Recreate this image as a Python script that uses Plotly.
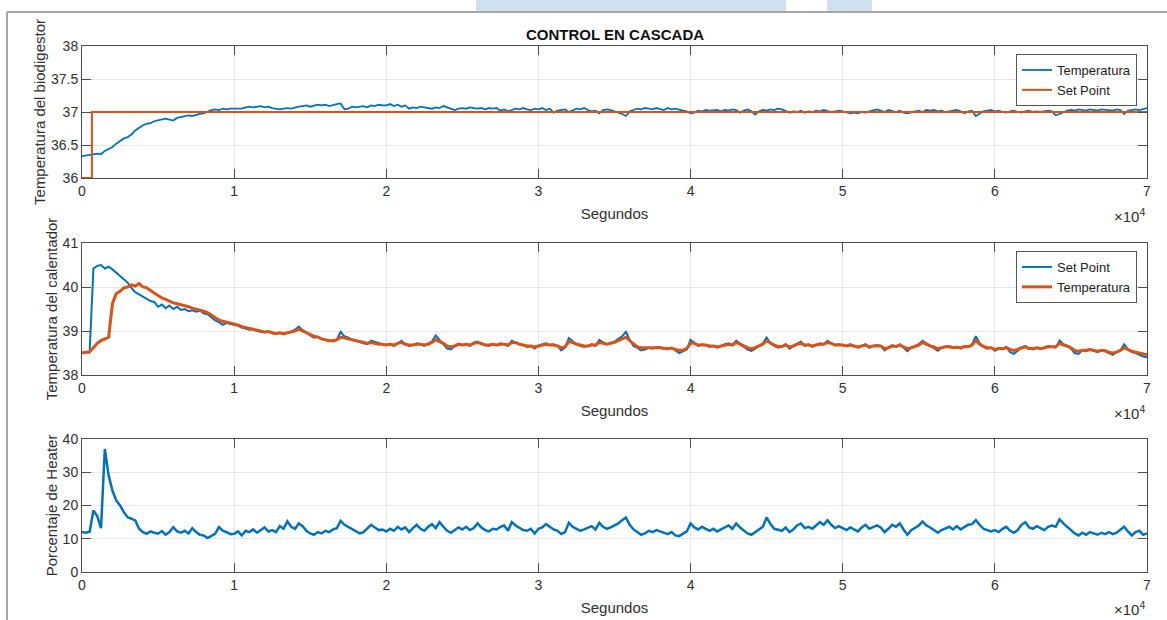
import numpy as np
import plotly.graph_objects as go

# Sampling period of the logged signals (s)
PERIODO = 250

# --- Biodigestor: temperature and set point ---
temp_biodigestor = [
    36.33, 36.34, 36.34, 36.35, 36.37, 36.36, 36.41, 36.44, 36.47, 36.52, 36.56, 36.60, 36.62, 36.66, 36.72, 36.76, 36.80, 36.82, 36.83, 36.86,
    36.88, 36.89, 36.90, 36.88, 36.87, 36.91, 36.92, 36.94, 36.95, 36.94, 36.96, 36.97, 36.98, 37.01, 37.03, 37.04, 37.03, 37.05, 37.04, 37.05,
    37.05, 37.06, 37.05, 37.07, 37.08, 37.07, 37.08, 37.09, 37.07, 37.08, 37.06, 37.05, 37.04, 37.05, 37.06, 37.05, 37.07, 37.08, 37.09, 37.10,
    37.08, 37.10, 37.11, 37.10, 37.11, 37.09, 37.11, 37.12, 37.13, 37.04, 37.05, 37.08, 37.07, 37.08, 37.09, 37.07, 37.10, 37.09, 37.11, 37.10,
    37.10, 37.12, 37.09, 37.11, 37.08, 37.10, 37.05, 37.07, 37.06, 37.08, 37.07, 37.06, 37.05, 37.07, 37.06, 37.09, 37.07, 37.06, 37.03, 37.05,
    37.06, 37.05, 37.07, 37.06, 37.05, 37.06, 37.04, 37.06, 37.05, 37.06, 37.02, 37.04, 37.01, 37.03, 37.05, 37.04, 37.06, 37.04, 37.03, 37.05,
    37.04, 37.06, 37.03, 37.05, 36.99, 37.02, 37.03, 37.04, 37.00, 37.03, 37.05, 37.04, 37.06, 37.03, 37.01, 37.02, 36.98, 37.03, 37.04, 37.03,
    37.01, 37.00, 36.97, 36.94, 37.01, 37.03, 37.05, 37.04, 37.06, 37.05, 37.04, 37.06, 37.05, 37.03, 37.06, 37.04, 37.05, 37.03, 37.02, 37.01,
    36.98, 36.99, 37.02, 37.01, 37.03, 37.02, 37.02, 37.03, 37.01, 37.03, 37.02, 37.04, 37.03, 36.99, 37.02, 37.04, 37.01, 36.96, 37.01, 37.03,
    37.02, 37.04, 37.03, 37.05, 37.04, 37.02, 36.99, 37.01, 37.00, 37.02, 36.99, 37.01, 37.00, 37.02, 37.01, 37.03, 37.02, 37.00, 37.01, 37.02,
    37.01, 37.00, 36.98, 36.99, 36.98, 37.00, 36.99, 37.01, 37.03, 37.04, 37.02, 37.00, 37.03, 37.02, 37.00, 37.02, 36.99, 36.98, 37.00, 37.01,
    37.02, 37.00, 37.03, 37.02, 37.03, 37.01, 37.02, 37.00, 37.01, 37.02, 37.03, 37.01, 36.98, 37.01, 37.02, 36.94, 36.97, 37.01, 37.02, 37.03,
    37.01, 37.02, 37.00, 36.99, 37.01, 37.02, 37.00, 36.99, 37.01, 37.02, 37.00, 37.01, 37.00, 37.01, 37.02, 37.01, 36.95, 36.97, 37.00, 37.02,
    37.03, 37.02, 37.04, 37.03, 37.02, 37.04, 37.03, 37.02, 37.04, 37.03, 37.03, 37.02, 37.04, 37.03, 36.97, 37.02, 37.03, 37.04, 37.03, 37.05,
    37.06,
]
sp_biodigestor_t = [0, 650, 650, 70000]
sp_biodigestor = [36.0, 36.0, 37.0, 37.0]

# --- Heater: set point from the outer loop and measured temperature ---
sp_calentador = [
    38.50, 38.52, 38.51, 40.42, 40.48, 40.50, 40.42, 40.46, 40.40, 40.33, 40.25, 40.18, 40.10, 39.98, 39.88, 39.83, 39.78, 39.72, 39.68, 39.66,
    39.55, 39.60, 39.52, 39.58, 39.50, 39.55, 39.48, 39.50, 39.45, 39.47, 39.44, 39.46, 39.40, 39.38, 39.30, 39.24, 39.20, 39.14, 39.18, 39.16,
    39.15, 39.12, 39.08, 39.05, 39.03, 39.04, 39.00, 38.98, 38.97, 38.99, 38.95, 38.93, 38.96, 38.92, 38.95, 38.99, 39.03, 39.10, 39.02, 38.95,
    38.90, 38.85, 38.87, 38.82, 38.80, 38.78, 38.76, 38.80, 38.98, 38.88, 38.85, 38.80, 38.78, 38.75, 38.72, 38.70, 38.78, 38.75, 38.73, 38.70,
    38.68, 38.70, 38.66, 38.72, 38.78, 38.70, 38.66, 38.68, 38.72, 38.70, 38.66, 38.72, 38.76, 38.90, 38.80, 38.72, 38.60, 38.58, 38.66, 38.70,
    38.68, 38.70, 38.66, 38.74, 38.76, 38.70, 38.68, 38.66, 38.70, 38.68, 38.72, 38.70, 38.66, 38.78, 38.74, 38.70, 38.68, 38.64, 38.66, 38.60,
    38.66, 38.70, 38.72, 38.68, 38.70, 38.66, 38.56, 38.62, 38.84, 38.76, 38.70, 38.66, 38.64, 38.66, 38.70, 38.66, 38.80, 38.74, 38.70, 38.72,
    38.76, 38.82, 38.88, 38.98, 38.80, 38.66, 38.62, 38.56, 38.58, 38.62, 38.60, 38.64, 38.62, 38.60, 38.58, 38.62, 38.56, 38.50, 38.54, 38.58,
    38.80, 38.72, 38.66, 38.70, 38.68, 38.64, 38.66, 38.62, 38.66, 38.70, 38.72, 38.68, 38.78, 38.70, 38.64, 38.58, 38.55, 38.60, 38.66, 38.72,
    38.85, 38.72, 38.66, 38.62, 38.64, 38.70, 38.60, 38.66, 38.72, 38.76, 38.66, 38.70, 38.64, 38.68, 38.72, 38.70, 38.78, 38.72, 38.68, 38.70,
    38.68, 38.66, 38.70, 38.66, 38.62, 38.66, 38.70, 38.62, 38.66, 38.68, 38.66, 38.56, 38.62, 38.68, 38.64, 38.70, 38.62, 38.54, 38.62, 38.66,
    38.70, 38.78, 38.72, 38.66, 38.62, 38.55, 38.62, 38.64, 38.66, 38.62, 38.64, 38.60, 38.66, 38.64, 38.70, 38.88, 38.72, 38.64, 38.60, 38.62,
    38.55, 38.60, 38.58, 38.64, 38.52, 38.48, 38.56, 38.62, 38.66, 38.60, 38.58, 38.62, 38.60, 38.62, 38.66, 38.64, 38.62, 38.78, 38.70, 38.66,
    38.60, 38.50, 38.48, 38.56, 38.54, 38.58, 38.55, 38.52, 38.56, 38.54, 38.50, 38.46, 38.52, 38.56, 38.70, 38.58, 38.52, 38.50, 38.46, 38.42,
    38.40,
]

temp_calentador = [
    38.50, 38.52, 38.53, 38.62, 38.72, 38.78, 38.82, 38.86, 39.62, 39.85, 39.90, 39.98, 40.00, 40.05, 40.02, 40.08, 40.00, 39.98, 39.92, 39.86,
    39.80, 39.75, 39.72, 39.68, 39.64, 39.62, 39.60, 39.58, 39.55, 39.52, 39.50, 39.47, 39.45, 39.42, 39.36, 39.30, 39.25, 39.22, 39.20, 39.18,
    39.16, 39.14, 39.10, 39.08, 39.05, 39.03, 39.02, 39.00, 38.98, 38.99, 38.96, 38.94, 38.96, 38.94, 38.96, 38.98, 39.00, 39.04, 39.00, 38.96,
    38.92, 38.88, 38.86, 38.82, 38.80, 38.78, 38.78, 38.80, 38.86, 38.84, 38.82, 38.80, 38.78, 38.76, 38.74, 38.72, 38.74, 38.72, 38.70, 38.70,
    38.68, 38.70, 38.68, 38.72, 38.74, 38.70, 38.68, 38.68, 38.70, 38.70, 38.68, 38.70, 38.74, 38.80, 38.76, 38.72, 38.66, 38.64, 38.66, 38.70,
    38.68, 38.70, 38.68, 38.72, 38.74, 38.72, 38.68, 38.68, 38.70, 38.68, 38.70, 38.70, 38.68, 38.74, 38.74, 38.70, 38.68, 38.66, 38.66, 38.64,
    38.66, 38.68, 38.70, 38.68, 38.68, 38.66, 38.62, 38.64, 38.76, 38.74, 38.70, 38.68, 38.66, 38.66, 38.68, 38.68, 38.74, 38.72, 38.70, 38.72,
    38.74, 38.78, 38.82, 38.86, 38.78, 38.70, 38.64, 38.62, 38.62, 38.62, 38.62, 38.63, 38.62, 38.61, 38.60, 38.61, 38.58, 38.56, 38.57, 38.60,
    38.72, 38.72, 38.68, 38.68, 38.68, 38.66, 38.66, 38.64, 38.66, 38.68, 38.70, 38.68, 38.74, 38.70, 38.66, 38.62, 38.60, 38.62, 38.66, 38.70,
    38.78, 38.72, 38.68, 38.65, 38.65, 38.68, 38.64, 38.66, 38.70, 38.72, 38.68, 38.68, 38.66, 38.68, 38.70, 38.70, 38.74, 38.72, 38.68, 38.68,
    38.68, 38.66, 38.68, 38.66, 38.64, 38.66, 38.68, 38.64, 38.66, 38.66, 38.66, 38.60, 38.62, 38.66, 38.65, 38.68, 38.64, 38.60, 38.62, 38.65,
    38.68, 38.74, 38.70, 38.66, 38.64, 38.60, 38.62, 38.64, 38.64, 38.62, 38.63, 38.62, 38.64, 38.64, 38.68, 38.78, 38.70, 38.65, 38.62, 38.62,
    38.58, 38.60, 38.60, 38.62, 38.58, 38.56, 38.58, 38.62, 38.64, 38.60, 38.60, 38.62, 38.60, 38.62, 38.64, 38.64, 38.64, 38.72, 38.68, 38.66,
    38.62, 38.56, 38.54, 38.56, 38.56, 38.58, 38.56, 38.54, 38.56, 38.55, 38.52, 38.50, 38.52, 38.56, 38.62, 38.58, 38.54, 38.52, 38.50, 38.48,
    38.46,
]

# --- Heater duty (%) ---
porcentaje_heater = [
    12.0, 11.8, 12.1, 18.5, 16.8, 13.2, 37.0, 29.0, 24.5, 21.5, 20.0, 18.0, 16.5, 16.0, 15.5, 13.0, 12.0, 11.5, 12.2, 11.8,
    11.5, 12.3, 11.2, 12.0, 13.5, 12.2, 11.8, 12.4, 11.6, 13.2, 12.0, 11.2, 11.0, 10.2, 10.8, 11.5, 13.5, 12.4, 12.0, 11.4,
    11.5, 12.2, 11.0, 12.4, 12.0, 12.8, 11.8, 12.6, 13.4, 12.2, 12.6, 12.0, 13.8, 13.0, 15.2, 13.6, 13.0, 14.6, 13.8, 12.4,
    11.6, 11.2, 12.0, 11.6, 12.4, 12.0, 12.8, 13.2, 15.4, 14.2, 13.6, 12.8, 12.2, 11.6, 12.0, 13.0, 14.2, 13.4, 12.6, 12.8,
    12.2, 13.0, 12.4, 13.6, 12.8, 13.4, 12.0, 13.2, 14.2, 13.0, 12.4, 13.6, 14.4, 13.2, 15.0, 13.6, 12.4, 11.8, 12.6, 13.4,
    12.8, 13.6, 12.6, 13.2, 14.6, 13.4, 12.6, 12.2, 13.0, 12.8, 13.6, 14.0, 12.4, 15.0, 14.0, 13.2, 12.6, 12.4, 13.0, 11.6,
    13.0, 13.4, 14.4, 13.6, 12.8, 12.4, 11.4, 12.0, 14.8, 13.6, 13.0, 12.4, 12.8, 13.2, 13.8, 12.8, 14.8, 13.6, 13.0, 13.4,
    14.0, 14.6, 15.6, 16.4, 14.2, 12.8, 12.0, 11.2, 11.6, 12.4, 12.0, 12.6, 12.2, 11.8, 11.4, 12.0, 11.0, 10.8, 11.6, 12.2,
    14.6, 13.4, 12.8, 13.6, 13.0, 12.4, 13.0, 12.2, 12.8, 13.4, 14.0, 13.0, 14.6, 13.4, 12.6, 11.6, 11.2, 12.0, 12.8, 13.6,
    16.4, 14.4, 13.0, 12.6, 12.4, 13.4, 12.0, 12.8, 14.0, 14.6, 13.2, 13.6, 13.0, 14.0, 15.0, 14.2, 15.6, 14.2, 13.2, 13.8,
    13.2, 12.6, 13.4, 12.8, 12.2, 13.4, 14.2, 13.0, 13.6, 14.0, 13.4, 12.0, 13.0, 14.2, 13.6, 14.6, 12.8, 11.2, 12.6, 13.4,
    14.0, 15.2, 14.0, 13.4, 12.6, 11.8, 12.6, 13.2, 13.6, 12.8, 13.8, 12.8, 13.4, 14.2, 14.4, 15.6, 14.2, 13.0, 12.6, 12.2,
    12.6, 12.0, 13.0, 13.6, 12.4, 11.8, 12.6, 14.2, 15.0, 13.4, 13.0, 13.8, 13.2, 12.6, 13.6, 14.0, 13.6, 15.8, 14.6, 13.6,
    12.8, 11.6, 11.0, 11.8, 11.2, 12.0, 11.6, 11.2, 11.8, 11.4, 12.0, 11.4, 11.8, 12.6, 13.6, 12.2, 11.0, 12.0, 12.4, 11.2,
    11.6,
]

x_tickvals = [0, 10000, 20000, 30000, 40000, 50000, 60000, 70000]
x_ticktext = ["0", "1", "2", "3", "4", "5", "6", "7"]


def tiempo(serie):
    return np.arange(len(serie)) * PERIODO


AZUL = "#0072BD"
NARANJA = "#D95319"
FONT = "Liberation Sans, Arial, Helvetica, sans-serif"
EJE = "#4d4d4d"
TEXTO = "#303030"

fig = go.Figure()

# Subplot 1
fig.add_trace(go.Scatter(x=tiempo(temp_biodigestor), y=temp_biodigestor, mode="lines",
                         name="Temperatura", line=dict(color=AZUL, width=1.8),
                         xaxis="x", yaxis="y", legend="legend"))
fig.add_trace(go.Scatter(x=sp_biodigestor_t, y=sp_biodigestor, mode="lines",
                         name="Set Point", line=dict(color=NARANJA, width=2),
                         xaxis="x", yaxis="y", legend="legend"))

# Subplot 2
fig.add_trace(go.Scatter(x=tiempo(sp_calentador), y=sp_calentador, mode="lines",
                         name="Set Point", line=dict(color=AZUL, width=2),
                         xaxis="x2", yaxis="y2", legend="legend2"))
fig.add_trace(go.Scatter(x=tiempo(temp_calentador), y=temp_calentador, mode="lines",
                         name="Temperatura", line=dict(color=NARANJA, width=3),
                         xaxis="x2", yaxis="y2", legend="legend2"))

# Subplot 3
fig.add_trace(go.Scatter(x=tiempo(porcentaje_heater), y=porcentaje_heater, mode="lines",
                         name="Heater", line=dict(color=AZUL, width=2.5),
                         xaxis="x3", yaxis="y3", showlegend=False))

# Plot-area geometry (px) -> paper fractions
W, H = 1167, 620
ML, MR, MT, MB = 82, 20, 46, 48
PH = H - MT - MB
PW = W - ML - MR


def py(px):
    return (H - MB - px) / PH


def px_x(px):
    return (px - ML) / PW


dominios = [(py(178), py(46)), (py(375), py(243)), (py(572), py(439))]

common_x = dict(range=[0, 70000], tickvals=x_tickvals, ticktext=x_ticktext,
                showline=True, linecolor=EJE, linewidth=1, mirror="ticks",
                ticks="inside", ticklen=9, tickcolor=EJE, tickwidth=1,
                showgrid=True, gridcolor="#e6e6e6", gridwidth=1, zeroline=False,
                automargin=False,
                tickfont=dict(family=FONT, size=14, color=TEXTO),
                title=dict(text="Segundos", font=dict(family=FONT, size=15, color=TEXTO), standoff=10))
common_y = dict(showline=True, linecolor=EJE, linewidth=1, mirror="ticks",
                ticks="inside", ticklen=9, tickcolor=EJE, tickwidth=1,
                showgrid=True, gridcolor="#e6e6e6", gridwidth=1, zeroline=False,
                automargin=False,
                tickfont=dict(family=FONT, size=14, color=TEXTO))
titulo_y = dict(family=FONT, size=15, color=TEXTO)

fig.update_layout(
    width=W, height=H,
    margin=dict(l=ML, r=MR, t=MT, b=MB, autoexpand=False),
    paper_bgcolor="white", plot_bgcolor="white",
    font=dict(family=FONT, color=TEXTO),
    xaxis=dict(domain=[0, 1], anchor="y", **common_x),
    xaxis2=dict(domain=[0, 1], anchor="y2", **common_x),
    xaxis3=dict(domain=[0, 1], anchor="y3", **common_x),
    yaxis=dict(domain=list(dominios[0]), anchor="x", range=[36, 38],
               tickvals=[36, 36.5, 37, 37.5, 38], ticktext=["36", "36.5", "37", "37.5", "38"],
               title=dict(text="Temperatura del biodigestor", font=titulo_y, standoff=1),
               **common_y),
    yaxis2=dict(domain=list(dominios[1]), anchor="x2", range=[38, 41],
                tickvals=[38, 39, 40, 41],
                title=dict(text="Temperatura del calentador", font=titulo_y, standoff=1),
                **common_y),
    yaxis3=dict(domain=list(dominios[2]), anchor="x3", range=[0, 40],
                tickvals=[0, 10, 20, 30, 40],
                title=dict(text="Porcentaje de Heater", font=titulo_y, standoff=1),
                **common_y),
    legend=dict(x=px_x(1137), y=py(54), xanchor="right", yanchor="top",
                bgcolor="white", bordercolor="#555555", borderwidth=1,
                font=dict(family=FONT, size=13, color="#222"), tracegroupgap=0,
                itemwidth=30),
    legend2=dict(x=px_x(1137), y=py(251), xanchor="right", yanchor="top",
                 bgcolor="white", bordercolor="#555555", borderwidth=1,
                 font=dict(family=FONT, size=13, color="#222"), tracegroupgap=0,
                 itemwidth=30),
    showlegend=True,
)

anotaciones = [
    dict(text="<b>CONTROL EN CASCADA</b>", x=0.5, y=py(34), xref="paper", yref="paper",
         xanchor="center", yanchor="middle", showarrow=False,
         font=dict(family=FONT, size=15, color="#111")),
]
for ypx in (215, 412, 608):
    anotaciones.append(dict(text="×10<sup>4</sup>", x=1.0, y=py(ypx), xref="paper", yref="paper",
                            xanchor="right", yanchor="middle", showarrow=False,
                            font=dict(family=FONT, size=15, color=TEXTO)))
fig.update_layout(annotations=anotaciones)

# Figure frame and the light-blue emblem along the top edge
formas = [
    dict(type="rect", xref="paper", yref="paper", x0=px_x(476), x1=px_x(786), y0=py(12), y1=py(0),
         fillcolor="#cfe0f1", line=dict(width=0), layer="below"),
    dict(type="rect", xref="paper", yref="paper", x0=px_x(827), x1=px_x(872), y0=py(12), y1=py(0),
         fillcolor="#cfe0f1", line=dict(width=0), layer="below"),
    dict(type="line", xref="paper", yref="paper", x0=px_x(7), x1=px_x(1167), y0=py(12), y1=py(12),
         line=dict(color="#a6a6a6", width=2)),
    dict(type="line", xref="paper", yref="paper", x0=px_x(7), x1=px_x(7), y0=py(12), y1=py(620),
         line=dict(color="#a6a6a6", width=2)),
]
fig.update_layout(shapes=formas)

fig.write_html("out.html")
